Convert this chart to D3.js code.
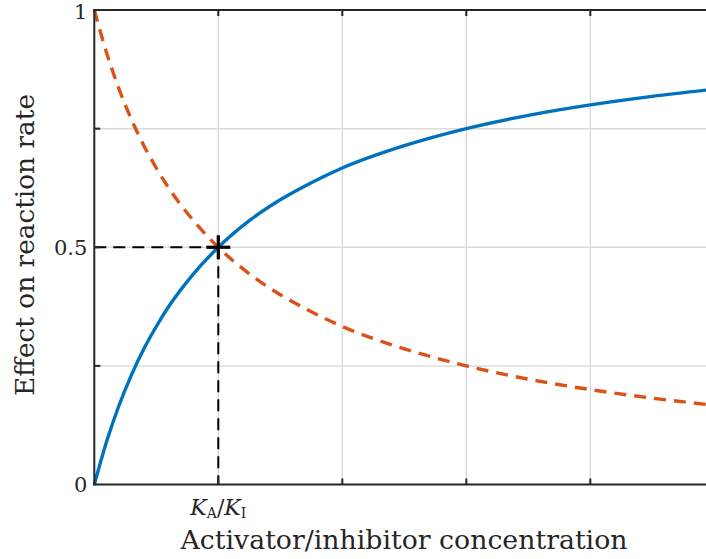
<!DOCTYPE html>
<html>
<head>
<meta charset="utf-8">
<script src="https://cdn.jsdelivr.net/npm/d3@7"></script>
<style>
  html, body { margin: 0; padding: 0; background: #fff; }
  svg { display: block; }
  text { font-family: "DejaVu Serif", serif; fill: #262626; }
</style>
</head>
<body>
<svg id="chart" width="706" height="559"></svg>
<script>
// Concentration relative to K (x) and the effect of each ligand on the rate
const concentration = [0, 0.1, 0.2, 0.3, 0.4, 0.5, 0.6, 0.8, 1, 1.25, 1.5, 1.75, 2, 2.5, 3, 3.5, 4, 4.5, 5];
const activatorEffect = [0, 0.091, 0.167, 0.231, 0.286, 0.333, 0.375, 0.444, 0.5, 0.556, 0.6, 0.636, 0.667, 0.714, 0.75, 0.778, 0.8, 0.818, 0.833];
const inhibitorEffect = [1, 0.909, 0.833, 0.769, 0.714, 0.667, 0.625, 0.556, 0.5, 0.444, 0.4, 0.364, 0.333, 0.286, 0.25, 0.222, 0.2, 0.182, 0.167];

const xGrid = [1, 2, 3, 4];
const yGrid = [0.25, 0.5, 0.75];
const yTickLabels = [{ v: 0, t: "0" }, { v: 0.5, t: "0.5" }, { v: 1, t: "1" }];
const crossing = { x: 1, y: 0.5 };

const svg = d3.select("#chart");
const x = d3.scaleLinear().domain([0, 5]).range([94.3, 714.3]);
const y = d3.scaleLinear().domain([0, 1]).range([484.5, 10]);

// grid
const grid = svg.append("g").attr("stroke", "#dcdcdc").attr("stroke-width", 1.5);
grid.selectAll("line.v").data(xGrid).join("line")
  .attr("x1", d => x(d)).attr("x2", d => x(d)).attr("y1", y(0)).attr("y2", y(1));
grid.selectAll("line.h").data(yGrid).join("line")
  .attr("y1", d => y(d)).attr("y2", d => y(d)).attr("x1", x(0)).attr("x2", x(5));

// dashed guides to the crossing point
const guides = svg.append("g").attr("stroke", "#000").attr("stroke-width", 2)
  .attr("stroke-dasharray", "12,7").attr("fill", "none");
guides.append("line").attr("x1", x(0)).attr("x2", x(crossing.x))
  .attr("y1", y(crossing.y)).attr("y2", y(crossing.y));
guides.append("line").attr("x1", x(crossing.x)).attr("x2", x(crossing.x))
  .attr("y1", y(crossing.y)).attr("y2", y(0));

// curves
const pts = (vals) => concentration.map((c, i) => [c, vals[i]]);
const line = d3.line().x(d => x(d[0])).y(d => y(d[1])).curve(d3.curveMonotoneX);

svg.append("path").datum(pts(inhibitorEffect)).attr("d", line)
  .attr("fill", "none").attr("stroke", "#D95319").attr("stroke-width", 3.4)
  .attr("stroke-dasharray", "12,8");
svg.append("path").datum(pts(activatorEffect)).attr("d", line)
  .attr("fill", "none").attr("stroke", "#0072BD").attr("stroke-width", 3.4);

// crossing marker
const m = svg.append("g").attr("stroke", "#000").attr("stroke-width", 3.2);
m.append("line").attr("x1", x(crossing.x) - 12).attr("x2", x(crossing.x) + 12)
  .attr("y1", y(crossing.y)).attr("y2", y(crossing.y));
m.append("line").attr("x1", x(crossing.x)).attr("x2", x(crossing.x))
  .attr("y1", y(crossing.y) - 12).attr("y2", y(crossing.y) + 12);

// axes box (left, bottom, top)
const ax = svg.append("g").attr("stroke", "#262626").attr("stroke-width", 2).attr("fill", "none");
ax.append("line").attr("x1", x(0)).attr("x2", x(0)).attr("y1", y(0) + 1).attr("y2", y(1) - 1);
ax.append("line").attr("x1", x(0) - 1).attr("x2", x(5)).attr("y1", y(0)).attr("y2", y(0));
ax.append("line").attr("x1", x(0) - 1).attr("x2", x(5)).attr("y1", y(1)).attr("y2", y(1));

// inward ticks
const tickLen = 6;
ax.selectAll("line.bt").data(xGrid).join("line")
  .attr("x1", d => x(d)).attr("x2", d => x(d)).attr("y1", y(0)).attr("y2", y(0) - tickLen);
ax.selectAll("line.tt").data(xGrid).join("line")
  .attr("x1", d => x(d)).attr("x2", d => x(d)).attr("y1", y(1)).attr("y2", y(1) + tickLen);
ax.selectAll("line.lt").data(yGrid).join("line")
  .attr("y1", d => y(d)).attr("y2", d => y(d)).attr("x1", x(0)).attr("x2", x(0) + tickLen);

// y tick labels
svg.selectAll("text.yl").data(yTickLabels).join("text")
  .attr("x", x(0) - 7).attr("y", d => y(d.v) + (d.v === 1 ? 1 : 0)).attr("dy", "0.36em")
  .attr("text-anchor", "end").attr("font-size", 21).attr("font-weight", 300).text(d => d.t);

// x tick label K_A/K_I
const kl = svg.append("text").attr("x", x(crossing.x)).attr("y", 515)
  .attr("text-anchor", "middle").attr("font-size", 22);
kl.append("tspan").attr("font-style", "italic").text("K");
kl.append("tspan").attr("font-size", 14).attr("dy", 3).text("A");
kl.append("tspan").attr("dy", -3).text("/");
kl.append("tspan").attr("font-style", "italic").text("K");
kl.append("tspan").attr("font-size", 14).attr("dy", 3).text("I");

// axis titles
svg.append("text").attr("x", 404).attr("y", 549).attr("text-anchor", "middle")
  .attr("font-size", 26).attr("textLength", 447).attr("lengthAdjust", "spacingAndGlyphs")
  .text("Activator/inhibitor concentration");
svg.append("text").attr("transform", "translate(34,245) rotate(-90)")
  .attr("text-anchor", "middle").attr("font-size", 26).attr("textLength", 302)
  .attr("lengthAdjust", "spacingAndGlyphs").text("Effect on reaction rate");
</script>
</body>
</html>
